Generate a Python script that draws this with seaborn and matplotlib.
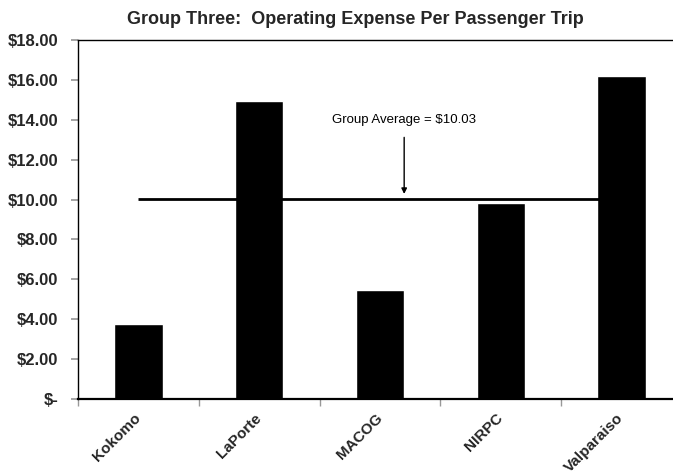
import numpy as np
import matplotlib
matplotlib.use('Agg')
import matplotlib.pyplot as plt
import seaborn as sns

#%% data
agencies = ['Kokomo', 'LaPorte', 'MACOG', 'NIRPC', 'Valparaiso']
expense_per_trip = [3.74, 14.96, 5.46, 9.83, 16.18]
group_average = 10.03
y_ticks = [0, 2, 4, 6, 8, 10, 12, 14, 16, 18]

#%% style
sns.set_theme(style='white')
plt.rcParams['font.family'] = ['Liberation Sans', 'DejaVu Sans']

fig = plt.figure(figsize=(6.73, 4.71), dpi=100)
# plot area runs a little past the right edge, like the cropped original
ax = fig.add_axes([0.1159, 0.1529, 0.8975, 0.7622])

sns.barplot(x=agencies, y=expense_per_trip, color='black', width=0.4,
            saturation=1, ax=ax, zorder=2)

# group average line from first to last category centre
ax.hlines(group_average, 0, len(agencies) - 1, color='black', lw=2, zorder=3)

ax.annotate(f'Group Average = ${group_average:.2f}',
            xy=(2.2, group_average + 0.25), xytext=(2.2, 14.0),
            ha='center', va='center', fontsize=9.5, color='black',
            arrowprops=dict(arrowstyle='-|>', color='black', lw=1,
                            mutation_scale=8, shrinkA=6, shrinkB=0))

ax.set_xlim(-0.5, len(agencies) - 0.5)
ax.set_ylim(0, 18)
ax.set_yticks(y_ticks)
ax.set_yticklabels(['$-' if v == 0 else f'${v:.2f}' for v in y_ticks],
                   fontsize=12, fontweight='bold')
ax.set_xticks(range(len(agencies)))
ax.set_xticklabels(agencies, rotation=45, ha='right', va='center',
                   rotation_mode='anchor', fontsize=11, fontweight='bold')
ax.set_xticks(np.arange(len(agencies) + 1) - 0.5, minor=True)
ax.tick_params(axis='x', which='major', length=0, pad=12)
ax.tick_params(axis='x', which='minor', length=5, color='#999999',
               direction='out', bottom=True)
ax.tick_params(axis='y', length=5, color='#999999', direction='out',
               left=True, pad=9)
ax.set_xlabel('')
ax.set_ylabel('')

for side in ['top', 'left', 'bottom']:
    ax.spines[side].set_visible(True)
    ax.spines[side].set_color('black')
ax.spines['top'].set_linewidth(1)
ax.spines['left'].set_linewidth(1)
ax.spines['bottom'].set_linewidth(1.6)
ax.spines['right'].set_visible(False)

fig.text(0.528, 0.958, 'Group Three:  Operating Expense Per Passenger Trip',
         ha='center', va='center', fontsize=13, fontweight='bold')

fig.savefig('out.png', dpi=100)
